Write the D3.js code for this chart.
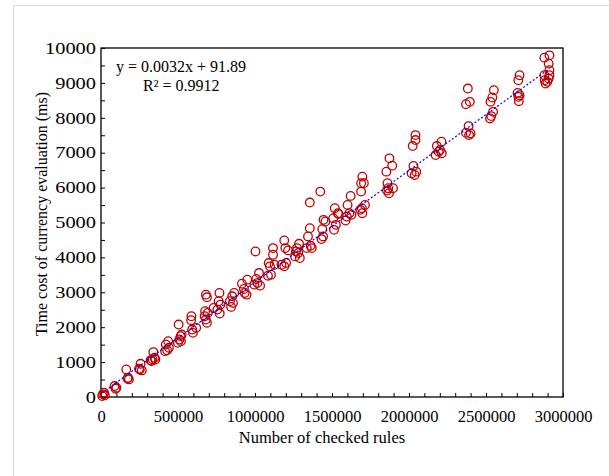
<!DOCTYPE html>
<html>
<head>
<meta charset="utf-8">
<script src="https://cdn.jsdelivr.net/npm/d3@7"></script>
<style>
  body { margin: 0; background: #fff; }
  svg { display: block; }
  text { font-family: "Liberation Serif", "Times New Roman", serif; fill: #000; }
</style>
</head>
<body>
<div id="corpo"></div>
<script>
// number of checked rules (x) and time cost in ms (y)
var ruleCounts = [
  12600, 20000, 8000, 25000,
  88000, 95000, 100000,
  164000, 176000, 181000, 172000,
  257000, 252000, 265000, 247000,
  340000, 328000, 353000, 335000, 348000, 322000,
  421000, 436000, 429000, 416000, 441000,
  504000, 517000, 509000, 499000, 524000, 519000,
  587000, 585000, 592000, 597000, 618000,
  681000, 688000, 676000, 693000, 681000, 688000, 673000,
  769000, 764000, 776000, 756000, 771000, 731000,
  845000, 852000, 865000, 857000, 837000,
  915000, 950000, 933000, 945000, 928000,
  1003000, 1026000, 1008000, 1033000, 1016000, 996000,
  1117000, 1117000, 1089000, 1097000, 1104000, 1084000, 1127000,
  1190000, 1197000, 1215000, 1172000, 1190000, 1202000,
  1286000, 1273000, 1260000, 1281000, 1291000, 1266000,
  1356000, 1356000, 1344000, 1361000, 1369000, 1336000,
  1424000, 1445000, 1457000, 1437000, 1442000, 1432000,
  1518000, 1538000, 1508000, 1513000, 1525000, 1543000,
  1621000, 1601000, 1613000, 1596000, 1588000, 1626000,
  1697000, 1689000, 1707000, 1689000, 1714000, 1694000, 1697000, 1684000,
  1873000, 1891000, 1853000, 1860000, 1865000, 1870000, 1896000, 1857000,
  2042000, 2042000, 2024000, 2029000, 2017000, 2047000, 2037000,
  2211000, 2181000, 2193000, 2173000, 2213000, 2201000,
  2382000, 2370000, 2395000, 2387000, 2370000, 2390000, 2400000,
  2551000, 2541000, 2529000, 2546000, 2534000, 2526000,
  2718000, 2710000, 2705000, 2718000, 2710000, 2713000,
  2912000, 2879000, 2907000, 2912000, 2912000, 2907000, 2879000, 2881000, 2887000, 2898000
];
var timeCosts = [
  76, 124, 29, 48,
  314, 238, 267,
  790, 552, 505, 530,
  952, 790, 762, 810,
  1286, 1029, 1076, 1080, 1124, 1050,
  1505, 1600, 1343, 1314, 1410,
  2076, 1743, 1648, 1552, 1790, 1600,
  2314, 2200, 1933, 1838, 1981,
  2933, 2857, 2457, 2410, 2219, 2124, 2314,
  2981, 2743, 2648, 2505, 2390, 2552,
  2581, 2886, 2981, 2695, 2743,
  3248, 3362, 2981, 2933, 3095,
  4171, 3552, 3381, 3190, 3267, 3219,
  4267, 4076, 3838, 3743, 3505, 3476, 3790,
  4486, 4267, 4200, 3790, 3743, 3838,
  4390, 4267, 4029, 4124, 3981, 4171,
  5571, 4838, 4600, 4333, 4267, 4267,
  5886, 5076, 5029, 4810, 4600, 4524,
  5410, 5267, 5124, 4790, 4933, 5240,
  5762, 5505, 5267, 5171, 5057, 5219,
  6314, 6124, 6124, 5886, 5505, 5410, 5267, 5362,
  6838, 6629, 6457, 6124, 5981, 5838, 5981, 5914,
  7505, 7362, 7190, 6619, 6410, 6457, 6362,
  7314, 7190, 7029, 6933, 6981, 7076,
  8838, 8390, 8457, 7762, 7571, 7505, 7552,
  8790, 8581, 8457, 8171, 8048, 7981,
  9219, 9076, 8714, 8648, 8600, 8476,
  9790, 9724, 9552, 9362, 9219, 9124, 9219, 9076, 8981, 9030
];

var xTicks = [0, 500000, 1000000, 1500000, 2000000, 2500000, 3000000];
var yTicks = [0, 1000, 2000, 3000, 4000, 5000, 6000, 7000, 8000, 9000, 10000];
var slope = 0.0032, intercept = 91.89;
var equationText = "y = 0.0032x + 91.89";
var r2Text = "R\u00B2 = 0.9912";
var xTitle = "Number of checked rules";
var yTitle = "Time cost of currency evaluation (ms)";

var width = 609, height = 476;
var margin = {left: 101, right: 46, top: 48, bottom: 79};

var svg = d3.select("#corpo").append("svg")
    .attr("width", width)
    .attr("height", height);

// chart area frame
svg.append("rect")
    .attr("x", 13.5).attr("y", 5.5)
    .attr("width", 620).attr("height", 500)
    .style("fill", "#fff")
    .style("stroke", "#d9d9d9")
    .style("stroke-width", 1);

var x = d3.scaleLinear().domain([0, 3000000]).range([margin.left, width - margin.right]);
var y = d3.scaleLinear().domain([0, 10000]).range([height - margin.bottom, margin.top]);

// minor + major ticks, inward
var xAxis = d3.axisBottom(x)
    .tickValues(d3.range(0, 3000001, 100000))
    .tickSize(-4)
    .tickPadding(13)
    .tickFormat(function(d) { return xTicks.indexOf(d) >= 0 ? d3.format("d")(d) : ""; });

var yAxis = d3.axisLeft(y)
    .tickValues(d3.range(0, 10001, 500))
    .tickSize(-4)
    .tickPadding(5)
    .tickFormat(function(d) { return yTicks.indexOf(d) >= 0 ? d3.format("d")(d) : ""; });

var gx = svg.append("g")
    .attr("transform", "translate(0," + (height - margin.bottom) + ")")
    .call(xAxis);
var gy = svg.append("g")
    .attr("transform", "translate(" + margin.left + ",0)")
    .call(yAxis);

[gx, gy].forEach(function(g) {
    g.select(".domain").remove();
    g.selectAll("line").style("stroke", "#000");
    g.selectAll("text")
        .style("font-family", "Liberation Serif")
        .style("font-size", "16.5px")
        .style("fill", "#000");
});

// y labels in the picture are drawn wider than the x labels
gy.selectAll("text")
    .filter(function() { return this.textContent !== ""; })
    .attr("textLength", function() { return this.textContent.length * 10.2; })
    .attr("lengthAdjust", "spacingAndGlyphs");

// plot border
svg.append("rect")
    .attr("x", margin.left).attr("y", margin.top)
    .attr("width", width - margin.right - margin.left)
    .attr("height", height - margin.bottom - margin.top)
    .style("fill", "none")
    .style("stroke", "#000")
    .style("stroke-width", 1.3);

// points
var pts = ruleCounts.map(function(v, i) { return {n: v, t: timeCosts[i]}; });
svg.append("g").selectAll("circle")
    .data(pts)
    .enter().append("circle")
    .attr("cx", function(d) { return x(d.n); })
    .attr("cy", function(d) { return y(d.t); })
    .attr("r", 4.3)
    .style("fill", "none")
    .style("stroke", "#c00000")
    .style("stroke-width", 1.3);

// linear trendline
var xMin = d3.min(ruleCounts), xMax = d3.max(ruleCounts);
var line = d3.line()
    .x(function(d) { return x(d); })
    .y(function(d) { return y(slope * d + intercept); });
svg.append("path")
    .datum([xMin, xMax])
    .attr("d", line)
    .style("fill", "none")
    .style("stroke", "#0000ff")
    .style("stroke-width", 1.2)
    .style("stroke-dasharray", "2,2");

// equation
svg.append("text")
    .attr("x", 116).attr("y", 72)
    .style("font-size", "16px")
    .text(equationText);
svg.append("text")
    .attr("x", 143).attr("y", 91)
    .style("font-size", "16px")
    .text(r2Text);

// axis titles
svg.append("text")
    .attr("x", 322)
    .attr("y", 443)
    .attr("text-anchor", "middle")
    .style("font-size", "16.5px")
    .text(xTitle);

svg.append("text")
    .attr("transform", "translate(47,214) rotate(-90)")
    .attr("text-anchor", "middle")
    .style("font-size", "16px")
    .text(yTitle);
</script>
</body>
</html>
